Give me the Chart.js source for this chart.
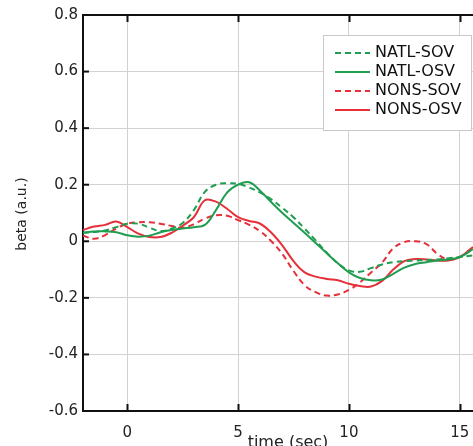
<!DOCTYPE html>
<html>
<head>
<meta charset="utf-8">
<script src="https://cdn.jsdelivr.net/npm/chart.js@4/dist/chart.umd.min.js"></script>
<style>
html, body { margin: 0; padding: 0; background: #fff; }
#grafico { display: block; }
</style>
</head>
<body>
<canvas id="grafico" width="473" height="446"></canvas>
<script>
// tiempo (sec) y valores de beta
const tiempo = [-2, -1.5, -1, -0.5, 0, 0.5, 1, 1.5, 2, 2.5, 3, 3.5, 4, 4.5, 5, 5.5, 6, 6.5, 7, 7.5, 8, 8.5, 9, 9.5, 10, 10.5, 11, 11.5, 12, 12.5, 13, 13.5, 14, 14.5, 15, 15.6];

const natlSov = [0.03, 0.033, 0.038, 0.05, 0.062, 0.062, 0.048, 0.036, 0.045, 0.065, 0.11, 0.175, 0.2, 0.205, 0.203, 0.19, 0.172, 0.148, 0.118, 0.085, 0.045, 0.003, -0.04, -0.078, -0.103, -0.108, -0.095, -0.082, -0.074, -0.07, -0.068, -0.066, -0.064, -0.06, -0.056, -0.05];
const natlOsv = [0.03, 0.035, 0.035, 0.032, 0.021, 0.016, 0.02, 0.032, 0.04, 0.045, 0.05, 0.058, 0.11, 0.172, 0.2, 0.209, 0.178, 0.138, 0.1, 0.065, 0.03, -0.006, -0.042, -0.078, -0.11, -0.13, -0.138, -0.135, -0.115, -0.093, -0.08, -0.074, -0.068, -0.064, -0.056, -0.028];
const nonsSov = [0.02, 0.009, 0.022, 0.045, 0.062, 0.067, 0.067, 0.062, 0.054, 0.048, 0.06, 0.08, 0.092, 0.09, 0.075, 0.058, 0.035, 0.0, -0.045, -0.105, -0.155, -0.18, -0.192, -0.188, -0.172, -0.145, -0.11, -0.075, -0.025, -0.003, 0.0, -0.01, -0.045, -0.065, -0.055, -0.022];
const nonsOsv = [0.04, 0.052, 0.058, 0.07, 0.05, 0.027, 0.015, 0.015, 0.03, 0.055, 0.085, 0.145, 0.14, 0.115, 0.085, 0.072, 0.062, 0.03, -0.015, -0.07, -0.11, -0.125, -0.133, -0.138, -0.15, -0.158, -0.16, -0.14, -0.1, -0.07, -0.063, -0.064, -0.068, -0.068, -0.056, -0.02];

const etiquetas = ['NATL-SOV', 'NATL-OSV', 'NONS-SOV', 'NONS-OSV'];
const xTicks = [0, 5, 10, 15];
const yTicks = [-0.6, -0.4, -0.2, 0, 0.2, 0.4, 0.6, 0.8];

const verde = '#1f9d50';
const rojo = '#e5303a';
const fuente = '"DejaVu Sans", Verdana, sans-serif';

function puntos(valores) {
    return tiempo.map((t, i) => ({ x: t, y: valores[i] }));
}

// marco superior, ticks hacia adentro, titulos y leyenda
const extras = {
    id: 'extras',
    afterDraw(chart) {
        const ctx = chart.ctx;
        const { left, right, top, bottom } = chart.chartArea;
        const sx = chart.scales.x;
        const sy = chart.scales.y;
        ctx.save();
        ctx.strokeStyle = '#111';
        ctx.lineWidth = 2;
        ctx.beginPath();
        ctx.moveTo(left - 1, top);
        ctx.lineTo(right, top);
        ctx.stroke();

        xTicks.forEach(v => {
            const px = Math.round(sx.getPixelForValue(v)) + 0.5;
            ctx.beginPath();
            ctx.moveTo(px, bottom);
            ctx.lineTo(px, bottom - 7);
            ctx.moveTo(px, top);
            ctx.lineTo(px, top + 7);
            ctx.stroke();
        });
        yTicks.forEach(v => {
            const py = sy.getPixelForValue(v);
            ctx.beginPath();
            ctx.moveTo(left, py);
            ctx.lineTo(left + 6, py);
            ctx.stroke();
        });

        // titulos de ejes
        ctx.fillStyle = '#222';
        ctx.textAlign = 'center';
        ctx.textBaseline = 'middle';
        ctx.font = '16px ' + fuente;
        ctx.fillText('time (sec)', 288, 443);
        ctx.save();
        ctx.translate(22, 214);
        ctx.rotate(-Math.PI / 2);
        ctx.font = '14px ' + fuente;
        ctx.fillText('beta (a.u.)', 0, 0);
        ctx.restore();

        // leyenda
        ctx.fillStyle = '#fff';
        ctx.strokeStyle = '#c8c8c8';
        ctx.lineWidth = 1;
        ctx.fillRect(323.5, 35.5, 148, 95);
        ctx.strokeRect(323.5, 35.5, 148, 95);
        ctx.textAlign = 'left';
        ctx.font = '16px ' + fuente;
        chart.data.datasets.forEach((ds, i) => {
            const yy = 53 + i * 19;
            ctx.strokeStyle = ds.borderColor;
            ctx.lineWidth = 2;
            ctx.setLineDash(ds.borderDash || []);
            ctx.beginPath();
            ctx.moveTo(335, yy);
            ctx.lineTo(370, yy);
            ctx.stroke();
            ctx.setLineDash([]);
            ctx.fillStyle = '#111';
            ctx.fillText(ds.label, 375, yy);
        });
        ctx.restore();
    }
};

const datasets = [
    { label: etiquetas[0], data: puntos(natlSov), borderColor: verde, borderDash: [6, 4] },
    { label: etiquetas[1], data: puntos(natlOsv), borderColor: verde },
    { label: etiquetas[2], data: puntos(nonsSov), borderColor: rojo, borderDash: [6, 4] },
    { label: etiquetas[3], data: puntos(nonsOsv), borderColor: rojo }
].map(d => Object.assign({ borderWidth: 2, pointRadius: 0, tension: 0.4, fill: false }, d));

new Chart(document.querySelector('#grafico'), {
    type: 'line',
    data: { datasets },
    options: {
        responsive: false,
        animation: false,
        devicePixelRatio: 1,
        layout: { padding: { top: 15, right: 0, left: 0, bottom: 0 } },
        plugins: { legend: { display: false }, tooltip: { enabled: false } },
        scales: {
            x: {
                type: 'linear',
                min: -2,
                max: 15.6,
                afterBuildTicks: s => { s.ticks = xTicks.map(v => ({ value: v })); },
                afterFit: s => { s.height = 35; s.paddingRight = 0; s.paddingLeft = 0; },
                grid: { color: '#d2d2d2', lineWidth: 1, drawTicks: false },
                border: { display: true, color: '#111', width: 2 },
                ticks: { font: { family: fuente, size: 15 }, color: '#222', padding: 13, maxRotation: 0 }
            },
            y: {
                min: -0.6,
                max: 0.8,
                afterBuildTicks: s => { s.ticks = yTicks.map(v => ({ value: v })); },
                afterFit: s => { s.width = 83; s.paddingTop = 0; s.paddingBottom = 0; },
                grid: { color: '#d2d2d2', lineWidth: 1, drawTicks: false },
                border: { display: true, color: '#111', width: 2 },
                ticks: {
                    font: { family: fuente, size: 15 },
                    color: '#222',
                    padding: 5,
                    callback: v => (Math.abs(v) < 1e-9 ? '0' : v.toFixed(1))
                }
            }
        }
    },
    plugins: [extras]
});
</script>
</body>
</html>
